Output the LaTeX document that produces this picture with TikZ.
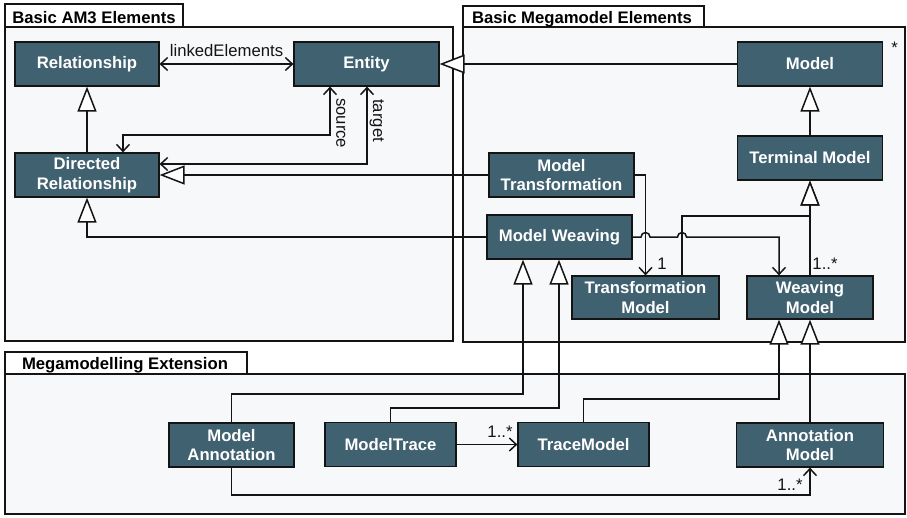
\documentclass[tikz,border=0pt]{standalone}
\usepackage{fontspec}
\setmainfont{Liberation Sans}
\usetikzlibrary{arrows.meta}
\definecolor{boxfill}{RGB}{64,97,112}
\definecolor{pkgfill}{RGB}{247,248,250}
\definecolor{linec}{RGB}{20,20,20}
\newcommand{\diagfont}{\fontsize{16.7}{19.5}\selectfont}
\tikzset{
  cls/.style={draw=linec, line width=1.2pt, fill=boxfill, text=white, font=\diagfont\bfseries, align=center, inner sep=0pt, minimum height=44pt},
  pkgbody/.style={draw=linec, line width=1.2pt, fill=pkgfill},
  pkgtab/.style={draw=linec, line width=1.2pt, fill=white},
  pkglabel/.style={font=\diagfont\bfseries, anchor=base, text=black},
  conn/.style={draw=linec, line width=1.5pt},
  gen/.style={conn, -{Triangle[length=25pt,width=19pt,fill=white]}},
  nav/.style={conn, -{Straight Barb[length=7pt,width=13pt]}},
  binav/.style={conn, {Straight Barb[length=7pt,width=13pt]}-{Straight Barb[length=7pt,width=13pt]}},
  lbl/.style={inner sep=0pt, anchor=base, text=linec, font=\diagfont}
}
\begin{document}
\begin{tikzpicture}[x=1pt,y=-1pt, font=\diagfont]
\path[use as bounding box] (0,0) rectangle (907,517);
% packages
\draw[pkgbody] (5,27) rectangle (453,341);
\draw[pkgtab] (5,4) rectangle (183,27);
\node[pkglabel] (pam3) at (94,23) {Basic AM3 Elements};
\draw[pkgbody] (463,27) rectangle (905,342);
\draw[pkgtab] (463,6) rectangle (704,27);
\node[pkglabel] (pmm) at (582,23) {Basic Megamodel Elements};
\draw[pkgbody] (5,374) rectangle (905,514);
\draw[pkgtab] (5,352) rectangle (247,374);
\node[pkglabel] (pext) at (125,369) {Megamodelling Extension};
% classes
\node[cls, minimum width=144pt] (rel) at (87,64) {Relationship};
\node[cls, minimum width=145pt] (ent) at (366.5,64) {Entity};
\node[cls, minimum width=144pt] (dr) at (87,175) {Directed\\Relationship};
\node[cls, minimum width=145pt] (model) at (810,64) {Model};
\node[cls, minimum width=145pt] (term) at (810,158) {Terminal Model};
\node[cls, minimum width=145pt] (mt) at (561.5,175) {Model\\Transformation};
\node[cls, minimum width=145pt] (mw) at (559.5,237) {Model Weaving};
\node[cls, minimum width=147pt, minimum height=43pt] (tm) at (645.5,297.5) {Transformation\\Model};
\node[cls, minimum width=126pt, minimum height=43pt] (wm) at (810,297.5) {Weaving\\Model};
\node[cls, minimum width=125pt] (ma) at (231.5,445) {Model\\Annotation};
\node[cls, minimum width=131pt] (mtr) at (390.5,444.5) {ModelTrace};
\node[cls, minimum width=131pt] (trm) at (583.5,444.5) {TraceModel};
\node[cls, minimum width=147pt] (am) at (810,445) {Annotation\\Model};
% AM3 connectors
\draw[binav] (rel.east) -- node[above=7pt, inner sep=0pt, text=linec] (lnk) {linkedElements} (ent.west);
\draw[binav] (ent.south -| 330,0) -- node[pos=0.755, rotate=-90, anchor=south, inner xsep=0pt, inner ysep=5.5pt, text=linec] (src) {source} (330,135) -- (123,135) -- (dr.north -| 123,0);
\draw[binav] (ent.south -| 367,0) -- node[pos=0.44, rotate=-90, anchor=south, inner xsep=0pt, inner ysep=2pt, text=linec] (tgt) {target} (367,164) -- (dr.east |- 0,164);
\draw[gen] (dr.north) -- (rel.south);
\draw[gen] (mt.west) -- (dr.east);
\draw[gen] (model.west) -- (ent.east);
\draw[gen] (mw.west) -| (dr.south);
% megamodel connectors
\draw[gen] (term.north) -- (model.south);
\draw[nav] (mt.east) -| (tm.north);
\draw[nav] (mw.east) -- (641,237) arc[start angle=180, end angle=0, radius=4.5pt] -- (677.5,237) arc[start angle=180, end angle=0, radius=4.5pt] -- (779,237) -- (wm.north -| 779,0);
\draw[gen] (tm.north -| 682,0) |- (term.south |- 0,216) -- (term.south);
\draw[gen] (wm.north) -- (term.south);
% extension connectors
\draw[gen] (ma.north) |- (523,394) -- (mw.south -| 523,0);
\draw[gen] (mtr.north) |- (559,408) -- (mw.south -| 559,0);
\draw[nav] (mtr.east) -- (trm.west);
\draw[gen] (trm.north) |- (779,399) -- (wm.south -| 779,0);
\draw[gen] (am.north) -- (wm.south);
\draw[nav] (ma.south) |- (810,495) -- (am.south);
% multiplicities
\node[lbl] (m1) at (662,269) {1};
\node[lbl] (m2) at (825,269) {1..*};
\node[lbl] (m3) at (500,437) {1..*};
\node[lbl] (m4) at (790,490) {1..*};
\node[lbl] (m5) at (894.5,53) {*};
\end{tikzpicture}
\end{document}
